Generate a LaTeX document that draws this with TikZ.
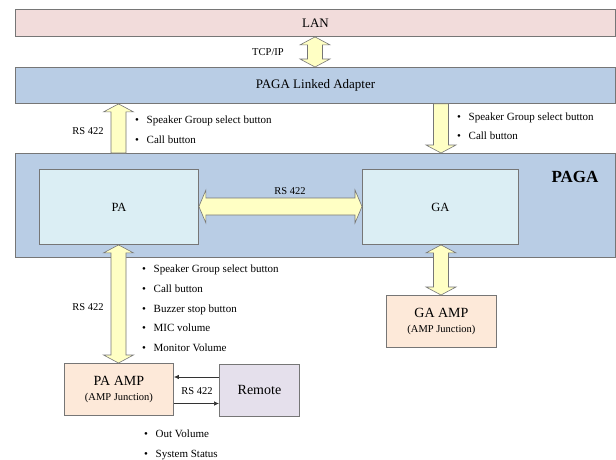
\documentclass[tikz,border=0pt]{standalone}
\usepackage{fontspec}
\setmainfont{Liberation Serif}
\usetikzlibrary{arrows.meta,calc}
\definecolor{lanfill}{HTML}{F2DCDB}
\definecolor{bluefill}{HTML}{B9CDE5}
\definecolor{lightfill}{HTML}{DBEEF4}
\definecolor{arrowfill}{HTML}{FFFFC4}
\definecolor{ampfill}{HTML}{FDE9D9}
\definecolor{remotefill}{HTML}{E5E0EC}
\definecolor{bordercol}{HTML}{767676}
\newcommand\fsw{7.5pt}
\newcommand\fhw{15pt}
\newcommand\fhl{8pt}
\newcommand\hsw{8.5pt}
\newcommand\hhw{16.5pt}
\newcommand\hhl{7pt}
% vertical fat arrows: #1 top point, #2 bottom point
\newcommand\fatVboth[2]{\draw[fat] let \p1=(#1),\p2=(#2) in
 (\x1,\y1) -- ({\x1+\fhw},{\y1-\fhl}) -- ({\x1+\fsw},{\y1-\fhl}) -- ({\x1+\fsw},{\y2+\fhl}) -- ({\x1+\fhw},{\y2+\fhl}) -- (\x1,\y2) -- ({\x1-\fhw},{\y2+\fhl}) -- ({\x1-\fsw},{\y2+\fhl}) -- ({\x1-\fsw},{\y1-\fhl}) -- ({\x1-\fhw},{\y1-\fhl}) -- cycle;}
\newcommand\fatVup[2]{\draw[fat] let \p1=(#1),\p2=(#2) in
 (\x1,\y1) -- ({\x1+\fhw},{\y1-\fhl}) -- ({\x1+\fsw},{\y1-\fhl}) -- ({\x1+\fsw},\y2) -- ({\x1-\fsw},\y2) -- ({\x1-\fsw},{\y1-\fhl}) -- ({\x1-\fhw},{\y1-\fhl}) -- cycle;}
\newcommand\fatVdown[2]{\draw[fat] let \p1=(#1),\p2=(#2) in
 ({\x1-\fsw},\y1) -- ({\x1+\fsw},\y1) -- ({\x1+\fsw},{\y2+\fhl}) -- ({\x1+\fhw},{\y2+\fhl}) -- (\x1,\y2) -- ({\x1-\fhw},{\y2+\fhl}) -- ({\x1-\fsw},{\y2+\fhl}) -- cycle;}
% horizontal fat double arrow: #1 left tip, #2 right tip
\newcommand\fatHboth[2]{\draw[fat] let \p1=(#1),\p2=(#2) in
 (\x1,\y1) -- ({\x1+\hhl},{\y1+\hhw}) -- ({\x1+\hhl},{\y1+\hsw}) -- ({\x2-\hhl},{\y1+\hsw}) -- ({\x2-\hhl},{\y1+\hhw}) -- (\x2,\y1) -- ({\x2-\hhl},{\y1-\hhw}) -- ({\x2-\hhl},{\y1-\hsw}) -- ({\x1+\hhl},{\y1-\hsw}) -- ({\x1+\hhl},{\y1-\hhw}) -- cycle;}
\newcommand\bl[1]{\makebox[11.5pt][l]{\textbullet}#1}
\tikzset{
 box/.style={draw=bordercol, line width=0.9pt, inner sep=0pt, anchor=north west, align=center},
 fat/.style={draw=bordercol, fill=arrowfill, line width=0.6pt, line join=miter},
 lbl/.style={font=\fontsize{10.5}{12}\selectfont, inner sep=0pt},
 blist/.style={align=left, inner sep=0pt, anchor=base west},
 smallarrow/.style={-{Latex[length=5pt,width=4.5pt]}, line width=0.7pt, draw=black!80},
}
\begin{document}
\begin{tikzpicture}[x=1pt,y=-1pt]
\useasboundingbox (0,0) rectangle (616,459);
% boxes
\node[box, fill=lanfill, minimum width=600pt, minimum height=27pt, font=\fontsize{13}{15}\selectfont] (lan) at (15,9) {LAN};
\node[box, fill=bluefill, minimum width=600pt, minimum height=36pt, font=\fontsize{13}{15}\selectfont] (adapter) at (15,67) {PAGA Linked Adapter};
\node[box, fill=bluefill, minimum width=600pt, minimum height=104pt] (paga) at (15,153) {};
\node[font=\bfseries\fontsize{17}{20}\selectfont, inner sep=0pt] (pagalbl) at (575,177) {PAGA};
\node[box, fill=lightfill, minimum width=159pt, minimum height=75pt, font=\fontsize{12.5}{15}\selectfont] (pa) at (39,169) {PA};
\node[box, fill=lightfill, minimum width=156pt, minimum height=75pt, font=\fontsize{12.5}{15}\selectfont] (ga) at (362,169) {GA};
\node[box, fill=ampfill, minimum width=110pt, minimum height=52pt, font=\fontsize{14}{17}\selectfont] (gaamp) at (386,295) {GA AMP\\[-2pt]{\fontsize{10.5}{12}\selectfont (AMP Junction)}};
\node[box, fill=ampfill, minimum width=109pt, minimum height=52pt, font=\fontsize{14}{17}\selectfont] (paamp) at (64,363) {PA AMP\\[-2pt]{\fontsize{10.5}{12}\selectfont (AMP Junction)}};
\node[box, fill=remotefill, minimum width=80pt, minimum height=52pt, font=\fontsize{14}{17}\selectfont] (remote) at (219,364) {Remote};
% x positions of fat arrows
\coordinate (xtcp) at (315,0);
\coordinate (xleft) at (118.5,0);
\coordinate (xright) at (441,0);
\coordinate (yrs) at (0,206.5);
\coordinate (yup) at (0,377);
\coordinate (ydown) at (0,403.5);
% fat arrows
\fatVboth{xtcp |- lan.south}{xtcp |- adapter.north}
\fatVup{xleft |- adapter.south}{xleft |- paga.north}
\fatVdown{xright |- adapter.south}{xright |- paga.north}
\fatHboth{pa.east |- yrs}{ga.west |- yrs}
\fatVboth{xleft |- pa.south}{xleft |- paamp.north}
\fatVboth{xright |- ga.south}{xright |- gaamp.north}
% thin arrows
\draw[smallarrow] (remote.west |- yup) -- (paamp.east |- yup);
\draw[smallarrow] (paamp.east |- ydown) -- (remote.west |- ydown);
% labels
\node[lbl] (ltcp) at (268,52) {TCP/IP};
\node[lbl] (lrs1) at (88,131) {RS 422};
\node[lbl] (lrs2) at (290,191) {RS 422};
\node[lbl] (lrs3) at (88,307) {RS 422};
\node[lbl] (lrs4) at (197,391) {RS 422};
% bullet lists (anchor = baseline of last line)
\node[blist, font=\fontsize{11}{20}\selectfont] (lista) at (135,143.5) {\bl{Speaker Group select button}\\\bl{Call button}};
\node[blist, font=\fontsize{11}{19}\selectfont] (listb) at (457,139.5) {\bl{Speaker Group select button}\\\bl{Call button}};
\node[blist, font=\fontsize{11}{19.75}\selectfont] (listc) at (142,351.5) {\bl{Speaker Group select button}\\\bl{Call button}\\\bl{Buzzer stop button}\\\bl{MIC volume}\\\bl{Monitor Volume}};
\node[blist, font=\fontsize{11}{20}\selectfont] (listd) at (144,457.5) {\bl{Out Volume}\\\bl{System Status}};
\end{tikzpicture}
\end{document}
